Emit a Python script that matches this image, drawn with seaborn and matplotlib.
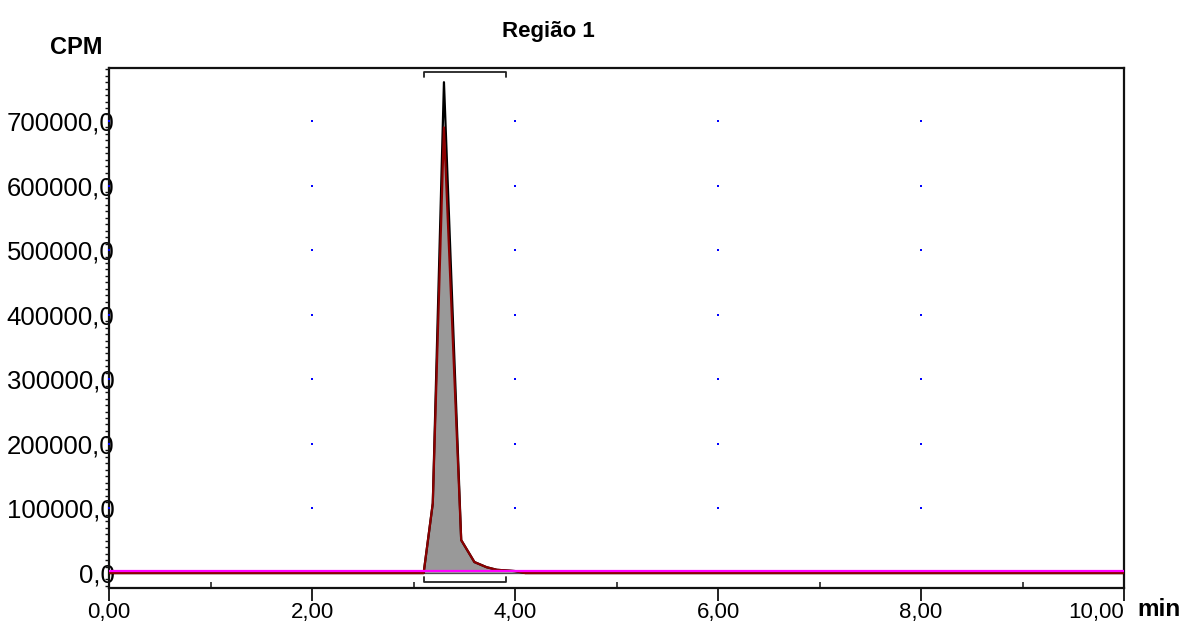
import matplotlib
matplotlib.use("Agg")
import matplotlib.pyplot as plt
from matplotlib.ticker import FuncFormatter, MultipleLocator
import numpy as np
import pandas as pd
import seaborn as sns

sns.set_theme(style="white")
plt.rcParams["font.family"] = ["Liberation Sans", "DejaVu Sans"]
plt.rcParams["text.color"] = "black"
plt.rcParams["xtick.color"] = "black"
plt.rcParams["ytick.color"] = "black"

# ── data ─────────────────────────────────────────────────────────────────────
time_min = [0.0, 3.10, 3.19, 3.30, 3.47, 3.60, 3.72, 3.82, 4.00, 4.10, 10.0]
cpm_smooth = [0, 0, 108000, 690000, 51000, 17000, 9000, 5000, 3000, 0, 0]
cpm_raw = [0, 0, 108000, 760000, 51000, 17000, 9000, 5000, 3000, 0, 0]
baseline_time = [0.0, 10.0]
baseline_cpm = [3000, 3000]
region_start, region_end = 3.10, 3.91
region_name = "Região 1"

x_major = [0, 2, 4, 6, 8, 10]
y_major = [0, 100000, 200000, 300000, 400000, 500000, 600000, 700000]

df = pd.DataFrame({"time": time_min, "smooth": cpm_smooth, "raw": cpm_raw})

fig = plt.figure(figsize=(11.83, 6.23), dpi=100)
ax = fig.add_axes([109 / 1183, 1 - 588 / 623, (1124 - 109) / 1183, (588 - 68) / 623])

ymin, ymax = -23200, 782000
ax.set_xlim(0, 10)
ax.set_ylim(ymin, ymax)

# dotted grid: single blue dots at the major tick crossings
gx, gy = np.meshgrid([v for v in x_major if v < 10], [v for v in y_major if v > 0])
ax.scatter(gx.ravel(), gy.ravel(), s=2.5, marker="s", color="#0000ff", linewidths=0, zorder=1)

# zero line
ax.axhline(0, color="black", lw=1.6, zorder=2)

# peak
ax.fill_between(df["time"], df["smooth"], 0, color="#999999", zorder=3, linewidth=0)
sns.lineplot(data=df, x="time", y="raw", color="black", lw=1.6, ax=ax, zorder=4)
sns.lineplot(data=df, x="time", y="smooth", color="#8b0000", lw=1.6, ax=ax, zorder=5)

# baseline
sns.lineplot(x=baseline_time, y=baseline_cpm, color="#ff00ff", lw=1.6, ax=ax, zorder=6)

# region brackets
top_y, top_leg = 776000, 768000
bot_y, bot_leg = -14000, -6200
ax.plot([region_start, region_start, region_end, region_end],
        [top_leg, top_y, top_y, top_leg], color="#222222", lw=1.3, zorder=7)
ax.plot([region_start, region_start, region_end, region_end],
        [bot_leg, bot_y, bot_y, bot_leg], color="#222222", lw=1.3, zorder=7)

# spines
for s in ax.spines.values():
    s.set_color("#111111")
    s.set_linewidth(1.6)
    s.set_visible(True)

# ticks
ax.set_xticks(x_major)
ax.xaxis.set_minor_locator(MultipleLocator(1))
ax.xaxis.set_major_formatter(FuncFormatter(lambda v, p: f"{v:.2f}".replace(".", ",")))
ax.tick_params(axis="x", which="major", direction="out", length=9, width=1.3,
               color="#111111", labelsize=16, pad=1, bottom=True)
ax.tick_params(axis="x", which="minor", direction="in", length=4, width=1.1,
               color="#111111", bottom=True)

ax.set_yticks(y_major)
ax.yaxis.set_minor_locator(MultipleLocator(10000))
ax.yaxis.set_major_formatter(FuncFormatter(lambda v, p: f"{v:.1f}".replace(".", ",")))
ax.tick_params(axis="y", which="major", direction="out", length=0, labelsize=18.5,
               pad=-4, left=True)
ax.tick_params(axis="y", which="minor", direction="out", length=3, width=1.0,
               color="#111111", left=True)
for lbl in ax.get_yticklabels():
    lbl.set_zorder(0)
# last x label sits left of its tick so it clears the unit
xl = ax.get_xticklabels()
xl[-1].set_horizontalalignment("right")
ax.set_xticklabels(xl)

# small blue dot where each major row meets the axis
ax.scatter([0] * (len(y_major) - 1), y_major[1:], s=2.5, marker="s", color="#0000ff",
           linewidths=0, zorder=8, clip_on=False)

ax.set_xlabel("")
ax.set_ylabel("")
ax.grid(False)

fig.text(548 / 1183, 1 - 31 / 623, region_name, ha="center", va="center",
         fontsize=16, fontweight="bold")
fig.text(76 / 1183, 1 - 47 / 623, "CPM", ha="center", va="center",
         fontsize=17, fontweight="bold")
fig.text(1159 / 1183, 1 - 609 / 623, "min", ha="center", va="center",
         fontsize=17.5, fontweight="bold")

fig.savefig("out.png", dpi=100)
